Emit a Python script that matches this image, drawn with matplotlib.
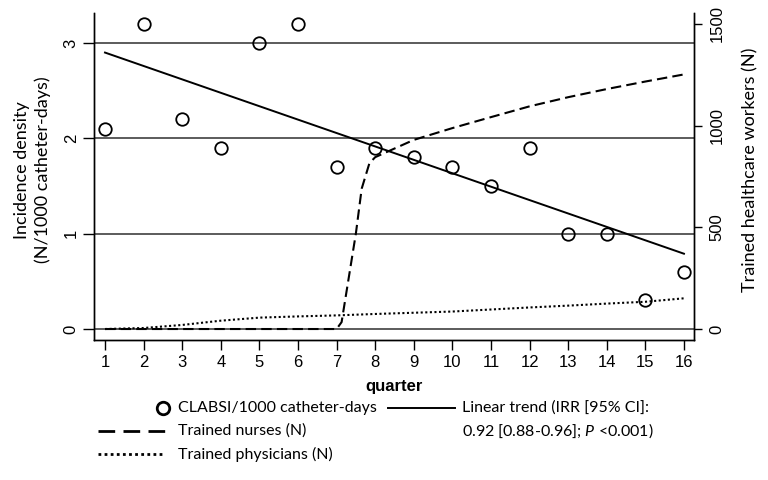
import matplotlib
matplotlib.use("Agg")
import matplotlib.pyplot as plt
from matplotlib.lines import Line2D

plt.rcParams['mathtext.fontset'] = 'custom'
plt.rcParams['mathtext.rm'] = 'Lato'
plt.rcParams['mathtext.it'] = 'Lato:italic'

# data
quarters = list(range(1, 17))
clabsi = [2.1, 3.2, 2.2, 1.9, 3.0, 3.2, 1.7, 1.9, 1.8, 1.7, 1.5, 1.9, 1.0, 1.0, 0.3, 0.6]
trend_x = [1, 16]
trend_y = [2.90, 0.79]
nurses_x = [1, 2, 3, 4, 5, 6, 7, 7.13, 7.5, 7.65, 7.85, 8, 9, 10, 11, 12, 13, 14, 15, 16]
nurses = [0, 0, 0, 0, 0, 0, 0, 34, 470, 690, 815, 845, 930, 988, 1042, 1095, 1140, 1180, 1217, 1252]
physicians = [0, 5, 20, 41, 56, 62, 67, 74, 80, 86, 96, 106, 115, 125, 134, 151]

left_ticks = [0, 1, 2, 3]
right_ticks = [0, 500, 1000, 1500]

label_font = 'Lato'
tick_font = 'Liberation Sans'

fig = plt.figure(figsize=(7.68, 4.8), dpi=100)
W, H = 768, 480
ax = fig.add_axes([94 / W, 1 - 340 / H, 600 / W, 327 / H])
ax2 = ax.twinx()

# incidence + trend on left axis
ax.plot(quarters, clabsi, linestyle='none', marker='o', markersize=9,
        markerfacecolor='none', markeredgecolor='black', markeredgewidth=1.3, zorder=3)
ax.plot(trend_x, trend_y, color='black', linewidth=1.4, zorder=3)

# trained staff on right axis
ax2.plot(nurses_x, nurses, color='black', linewidth=1.5, linestyle=(0, (5, 2.5)))
ax2.plot(quarters, physicians, color='black', linewidth=1.5, linestyle=(0, (1, 1.2)))

ax.set_xlim(0.715, 16.26)
ax.set_ylim(-0.115, 3.315)
ax2.set_ylim(-54, 1554)

ax.set_yticks(left_ticks)
ax.yaxis.grid(True, color='#404040', linewidth=1.2)
ax.set_axisbelow(True)
ax2.set_yticks(right_ticks)
ax.set_xticks(quarters)

for a in (ax, ax2):
    a.spines['top'].set_visible(False)
    for s in a.spines.values():
        s.set_linewidth(1.0)

ax.tick_params(axis='x', length=7, width=1, pad=4, labelsize=12)
ax.tick_params(axis='y', length=8, width=1, pad=3, labelsize=12)
ax2.tick_params(axis='y', length=6, width=1, pad=5, labelsize=12)
for lab in ax.get_xticklabels():
    lab.set_fontfamily(tick_font)
for lab in ax.get_yticklabels():
    lab.set_fontfamily(tick_font)
    lab.set_rotation(90)
    lab.set_va('center')
for lab in ax2.get_yticklabels():
    lab.set_fontfamily(tick_font)
    lab.set_rotation(90)
    lab.set_va('center')

ax.set_xlabel('quarter', fontfamily=tick_font, fontweight='bold', fontsize=12, labelpad=6)
ax.set_ylabel('Incidence density\n(N/1000 catheter-days)', fontfamily=label_font,
              fontsize=13, linespacing=1.3)
ax.yaxis.set_label_coords(-0.072, 0.52)
ax2.set_ylabel('Trained healthcare workers (N)', fontfamily=label_font, fontsize=13)
ax2.yaxis.set_label_coords(1.08, 0.52)

# legend drawn in figure pixels
def fx(px):
    return px / W

def fy(py):
    return 1 - py / H

tr = fig.transFigure
fig.lines.append(Line2D([fx(163)], [fy(408)], transform=tr, linestyle='none', marker='o',
                        markersize=9, markerfacecolor='none', markeredgecolor='black',
                        markeredgewidth=2))
fig.lines.append(Line2D([fx(98), fx(165)], [fy(431), fy(431)], transform=tr, color='black',
                        linewidth=2, linestyle=(0, (6, 3))))
fig.lines.append(Line2D([fx(98), fx(165)], [fy(454), fy(454)], transform=tr, color='black',
                        linewidth=2, linestyle=(0, (1, 1.2))))
fig.lines.append(Line2D([fx(388), fx(455)], [fy(408), fy(408)], transform=tr, color='black',
                        linewidth=1.4))

tkw = dict(fontfamily=label_font, fontsize=11.5, va='center', ha='left', transform=tr)
fig.text(fx(178), fy(408), 'CLABSI/1000 catheter-days', **tkw)
fig.text(fx(178), fy(431), 'Trained nurses (N)', **tkw)
fig.text(fx(178), fy(454), 'Trained physicians (N)', **tkw)
fig.text(fx(462), fy(408), 'Linear trend (IRR [95% CI]:', **tkw)
fig.text(fx(462), fy(431), r'0.92 [0.88-0.96]; $P$ <0.001)', **tkw)

fig.savefig('out.png', dpi=100)
